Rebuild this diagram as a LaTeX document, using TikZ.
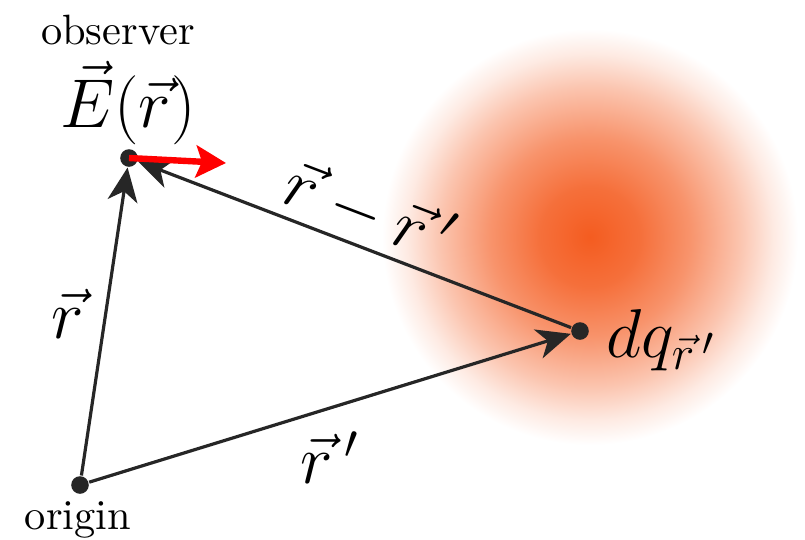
\documentclass[tikz,border=0pt]{standalone}
\usetikzlibrary{arrows.meta}
\definecolor{orc}{RGB}{244,92,32}
\pgfdeclareradialshading{blob}{\pgfpoint{0bp}{0bp}}{color(0bp)=(orc); color(6bp)=(orc!88!white); color(12bp)=(orc!66!white); color(18bp)=(orc!36!white); color(22bp)=(orc!13!white); color(25bp)=(white); color(50bp)=(white)}
\tikzset{
  dot/.style={circle,fill=black!85,inner sep=0pt,minimum size=4.4pt},
  vec/.style={line width=0.8pt,draw=black!85,-{Stealth[length=8.5pt,width=7.5pt,inset=2.5pt]}},
  field/.style={line width=1.6pt,draw=red,-{Stealth[length=7.5pt,width=8pt,inset=1.5pt]}},
  txt/.style={inner sep=0pt,font=\fontsize{10.6}{12}\selectfont},
  mth/.style={inner sep=0pt,font=\LARGE},
}
\begin{document}
\begin{tikzpicture}[x=0.25pt,y=-0.25pt]
\useasboundingbox (0,0) rectangle (805,539);
\shade[shading=blob] (590,237) circle (208);
\node[dot] (o) at (80,485) {};
\node[dot] (obs) at (129,158) {};
\node[dot] (q) at (580,331) {};
\coordinate (ef) at (226,163);
\draw[vec] (o) -- (obs);
\draw[vec] (q) -- (obs);
\draw[vec] (o) -- (q);
\draw[field] (obs.center) -- (ef);
\node[txt] (lobs) at (118,30) {observer};
\node[txt] (lorig) at (78,520) {origin};
\node[mth] (lE) at (128,103) {$\vec{E}(\vec{r})$};
\node[mth] (lr) at (68,314) {$\vec{r}$};
\node[mth,rotate=-20.9] (lrr) at (370,211) {$\vec{r}-\vec{r}\,'$};
\node[mth] (lrp) at (330,458) {$\vec{r}\,'$};
\node[mth,anchor=west] (ldq) at (606,340) {$dq_{\vec{r}\,'}$};
\end{tikzpicture}
\end{document}
